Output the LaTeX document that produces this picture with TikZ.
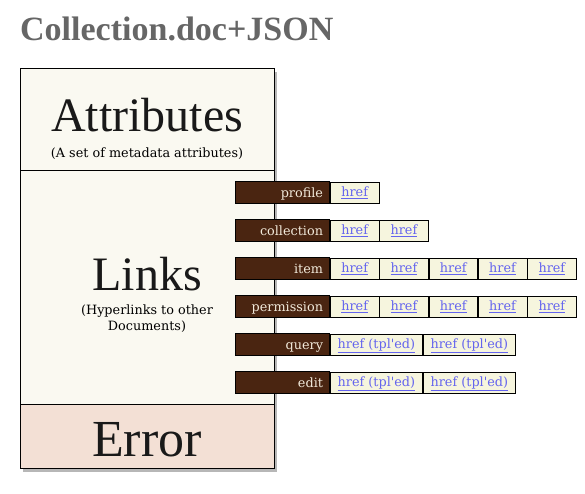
\documentclass[tikz,border=0pt]{standalone}
\usepackage{fontspec}
\setmainfont{Liberation Serif}
\newfontfamily\typefont{DejaVu Serif}
\usetikzlibrary{shadows,positioning}
\definecolor{titlegray}{HTML}{666666}
\definecolor{paper}{HTML}{FAF9F1}
\definecolor{errfill}{HTML}{F3E0D5}
\definecolor{brown}{HTML}{4A2511}
\definecolor{labeltext}{HTML}{F2EADB}
\definecolor{cellfill}{HTML}{F6F5DE}
\definecolor{linkblue}{HTML}{6464EE}
\tikzset{
  section/.style={draw=black, line width=0.8pt, inner sep=0pt, minimum width=254pt},
  bigword/.style={font=\fontsize{48}{50}\selectfont, text=black!90, inner sep=0pt},
  smallnote/.style={font=\typefont\fontsize{12.8}{16}\selectfont, align=center, inner sep=0pt},
  relbox/.style={draw=black, fill=brown, line width=0.6pt, minimum width=94pt, minimum height=22pt,
    text width=82pt, align=right, inner xsep=6pt, inner ysep=0pt, text height=11pt, text depth=1pt,
    text=labeltext, font=\typefont\fontsize{12.8}{14}\selectfont},
  cell/.style={draw=black, fill=cellfill, line width=0.6pt, minimum height=21pt, inner sep=0pt,
    text height=10.5pt, text depth=2.5pt,
    text=linkblue, font=\typefont\fontsize{12.8}{14}\selectfont, anchor=west},
  hcell/.style={cell, minimum width=48.7pt},
  tcell/.style={cell, minimum width=92.3pt},
}
\newcommand{\hr}{\underline{href}}
\newcommand{\tp}{\underline{href (tpl'ed)}}
\begin{document}
\begin{tikzpicture}[x=1pt,y=-1pt]
\useasboundingbox (0,0) rectangle (585,493);
\node[anchor=base west, font=\bfseries\fontsize{34}{36}\selectfont, text=titlegray, inner sep=0pt] (title) at (20,40) {Collection.doc+JSON};
% main box with shadow
\node[section, fill=paper, minimum height=400pt, drop shadow={shadow xshift=3pt, shadow yshift=-4pt, opacity=0.4, fill=black!70}] (mainbox) at (147,268) {};
\node[section, fill=paper, minimum height=102pt] (attr) at (147,119) {};
\node[section, fill=paper, minimum height=234pt] (links) at (147,287) {};
\node[section, fill=errfill, minimum height=64pt] (err) at (147,436) {};
\node[bigword, anchor=base] (attrtxt) at (147,131) {Attributes};
\node[smallnote, anchor=base] (attrnote) at (147,157) {(A set of metadata attributes)};
\node[bigword, anchor=base] (linkstxt) at (147,290) {Links};
\node[smallnote, anchor=center] (linksnote) at (147,319) {(Hyperlinks to other\\Documents)};
\node[bigword, font=\fontsize{52}{54}\selectfont, anchor=base] (errtxt) at (147,456) {Error};
% relations
\node[relbox] (rprofile) at (282,192) {profile};
\node[relbox] (rcollection) at (282,230) {collection};
\node[relbox] (ritem) at (282,268) {item};
\node[relbox] (rperm) at (282,306) {permission};
\node[relbox] (rquery) at (282,344) {query};
\node[relbox] (redit) at (282,382) {edit};
% cells
\node[hcell] (p1) at (330,192.5) {\hr};
\node[hcell] (c1) at (330,230.5) {\hr};
\node[hcell] (c2) at (c1.east) {\hr};
\node[hcell] (i1) at (330,268.5) {\hr};
\node[hcell] (i2) at (i1.east) {\hr};
\node[hcell] (i3) at (i2.east) {\hr};
\node[hcell] (i4) at (i3.east) {\hr};
\node[hcell] (i5) at (i4.east) {\hr};
\node[hcell] (m1) at (330,306.5) {\hr};
\node[hcell] (m2) at (m1.east) {\hr};
\node[hcell] (m3) at (m2.east) {\hr};
\node[hcell] (m4) at (m3.east) {\hr};
\node[hcell] (m5) at (m4.east) {\hr};
\node[tcell] (q1) at (330,344.5) {\tp};
\node[tcell] (q2) at (q1.east) {\tp};
\node[tcell] (e1) at (330,382.5) {\tp};
\node[tcell] (e2) at (e1.east) {\tp};
\end{tikzpicture}
\end{document}
